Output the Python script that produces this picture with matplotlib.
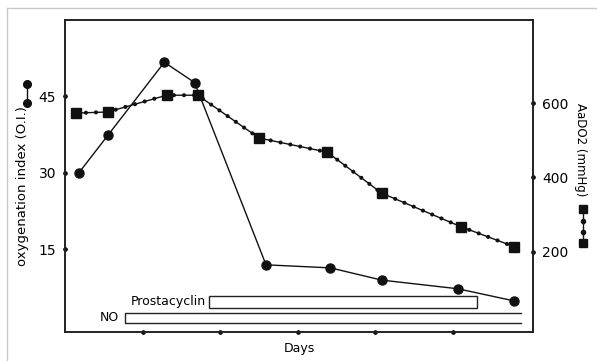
import numpy as np
import matplotlib
matplotlib.use('Agg')
import matplotlib.pyplot as plt
from matplotlib.lines import Line2D

# oxygenation index (left axis)
oi_days = [0.18, 0.56, 1.28, 1.67, 2.59, 3.42, 4.08, 5.06, 5.79]
oi_vals = [30.0, 37.5, 51.7, 47.7, 11.9, 11.3, 8.9, 7.2, 4.8]

# AaDO2 (right axis)
aa_days = [0.14, 0.55, 1.31, 1.71, 2.50, 3.38, 4.08, 5.10, 5.79]
aa_vals = [573, 576, 621, 621, 506, 468, 358, 268, 214]

# treatment periods (days)
prosta_period = (1.86, 5.31)
no_period = (0.77, 5.88)

day_ticks = [1, 2, 3, 4, 5]
oi_ticks = [15, 30, 45]
aa_ticks = [200, 400, 600]

fig = plt.figure(figsize=(5.97, 3.61), dpi=100)
ax = fig.add_axes([0.1089, 0.0803, 0.7839, 0.8643])
ax2 = ax.twinx()

ax.set_xlim(0, 6.03)
ax.set_ylim(-1.3, 60)
ax2.set_ylim(-15, 823)

# AaDO2 line with small dots along it
ax2.plot(aa_days, aa_vals, color='#111111', lw=1.0, zorder=2)
ax2.plot(aa_days, aa_vals, color='#111111', lw=3.0, linestyle=(0, (0.01, 2.4)),
         dash_capstyle='round', zorder=2)
ax2.plot(aa_days, aa_vals, 's', color='#111111', ms=7, zorder=3)

# OI line
ax.plot(oi_days, oi_vals, '-o', color='#111111', lw=1.0, ms=6.5, zorder=3)

# treatment bars
ax.add_patch(plt.Rectangle((prosta_period[0], 3.4), prosta_period[1] - prosta_period[0], 2.4,
                           fill=False, edgecolor='#222222', lw=1.0))
ax.plot([no_period[1], no_period[0], no_period[0], no_period[1]], [2.45, 2.45, 0.5, 0.5],
        color='#222222', lw=1.0)
ax.text(prosta_period[0] - 0.05, 4.6, 'Prostacyclin', ha='right', va='center', fontsize=9)
ax.text(no_period[0] - 0.07, 1.5, 'NO', ha='right', va='center', fontsize=9)

# ticks drawn as dots on the spines
ax.set_xticks(day_ticks)
ax.set_xticklabels([])
ax.set_yticks(oi_ticks)
ax2.set_yticks(aa_ticks)
ax.tick_params(axis='y', labelsize=10, pad=3)
ax2.tick_params(axis='y', labelsize=10, pad=3)
ax.tick_params(axis='x', length=0)
for t in ax.xaxis.get_major_ticks() + ax.yaxis.get_major_ticks() + ax2.yaxis.get_major_ticks():
    for tl in (t.tick1line, t.tick2line):
        tl.set_marker('o')
        tl.set_markersize(2.5)
        tl.set_color('#111111')

for a in (ax, ax2):
    for s in a.spines.values():
        s.set_linewidth(1.2)
        s.set_color('#222222')

ax.set_xlabel('Days', fontsize=9, labelpad=4)
fig.text(0.037, 0.485, 'oxygenation index (O.I.)', rotation=90, ha='center', va='center', fontsize=9.5)
fig.text(0.973, 0.585, 'AaDO2 (mmHg)', rotation=-90, ha='center', va='center', fontsize=8.5)

# symbol keys beside the axis labels
fig.add_artist(Line2D([27 / 597, 27 / 597], [1 - 84 / 361, 1 - 103 / 361], color='#111111',
                      lw=1.0, marker='o', ms=5.5))
fig.add_artist(Line2D([583 / 597, 583 / 597], [1 - 209 / 361, 1 - 243 / 361], color='#111111',
                      lw=1.0, marker='s', ms=6))
fig.add_artist(Line2D([583 / 597, 583 / 597], [1 - 221 / 361, 1 - 232 / 361], color='#111111',
                      lw=0, marker='o', ms=3))

# light figure frame
fig.add_artist(Line2D([7 / 597, 7 / 597], [0, 1 - 8 / 361], color='#c8c8c8', lw=1.0))
fig.add_artist(Line2D([7 / 597, 1], [1 - 8 / 361, 1 - 8 / 361], color='#c8c8c8', lw=1.0))

fig.savefig('out.png', dpi=100)
